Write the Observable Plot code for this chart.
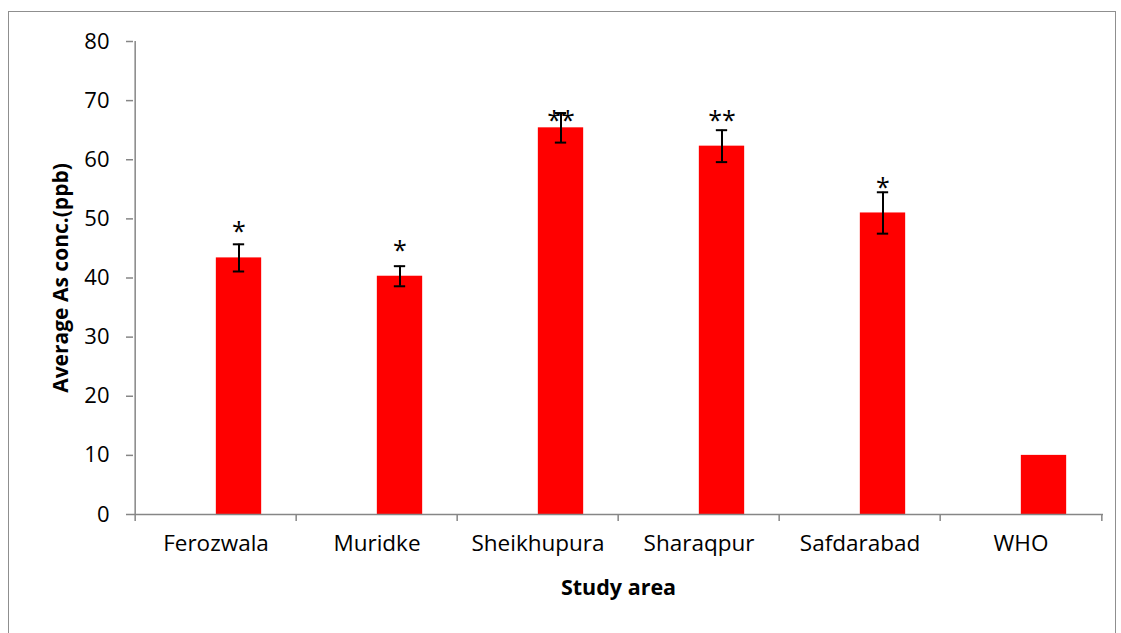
<!DOCTYPE html>
<html>
<head>
<meta charset="utf-8">
<script src="https://cdn.jsdelivr.net/npm/d3@7"></script>
<script src="https://cdn.jsdelivr.net/npm/@observablehq/plot@0.6"></script>
<style>
  html, body { margin: 0; padding: 0; background: #fff; }
  #wrap { position: relative; width: 1121px; height: 633px; overflow: hidden; }
  #border { position: absolute; left: 8px; top: 11px; width: 1108px; height: 640px; border: 1.5px solid #8f8f8f; box-sizing: border-box; pointer-events: none; }
  svg { display: block; }
</style>
</head>
<body>
<div id="wrap"><div id="border"></div><div id="chart"></div></div>
<script>
const areas = ["Ferozwala", "Muridke", "Sheikhupura", "Sharaqpur", "Safdarabad", "WHO"];
const means = [43.4, 40.3, 65.4, 62.3, 51.0, 10];
const errors = [2.3, 1.7, 2.5, 2.7, 3.5, null];
const stars = ["*", "*", "**", "**", "*", ""];
const starY = [48.9, 45.8, 67.8, 67.8, 56.4, null];
const yTicks = [0, 10, 20, 30, 40, 50, 60, 70, 80];

const data = areas.map((a, i) => ({area: a, mean: means[i], err: errors[i], star: stars[i], sy: starY[i]}));
const withErr = data.filter(d => d.err != null);
const withStar = data.filter(d => d.star);

const W = 1121, H = 633;
const mL = 133, mR = 18, mT = 41, mB = 119;
const band = (W - mL - mR) / areas.length;
const half = band / 2;
const barW = 46;
const capW = 12;
const font = "'Open Sans', sans-serif";

const chart = Plot.plot({
  width: W, height: H,
  marginLeft: mL, marginRight: mR, marginTop: mT, marginBottom: mB,
  style: {fontFamily: font, fontSize: "20px", color: "#000", background: "transparent"},
  x: {domain: areas, padding: 0, axis: null},
  y: {domain: [0, 80], axis: null},
  marks: [
    Plot.barY(data, {x: "area", y: "mean", fill: "#ff0000", insetLeft: half, insetRight: half - barW}),
    Plot.ruleX(withErr, {x: "area", y1: d => d.mean - d.err, y2: d => d.mean + d.err, dx: barW / 2, stroke: "#000", strokeWidth: 2}),
    Plot.tickY(withErr, {x: "area", y: d => d.mean + d.err, insetLeft: half + barW / 2 - capW / 2, insetRight: half - barW / 2 - capW / 2, stroke: "#000", strokeWidth: 2}),
    Plot.tickY(withErr, {x: "area", y: d => d.mean - d.err, insetLeft: half + barW / 2 - capW / 2, insetRight: half - barW / 2 - capW / 2, stroke: "#000", strokeWidth: 2}),
    Plot.text(withStar, {x: "area", y: "sy", text: "star", dx: barW / 2, dy: 7, fontSize: 25, fill: "#000"}),
    // axes lines
    Plot.ruleY([0], {stroke: "#868686", strokeWidth: 1.5}),
    Plot.ruleX([areas[0]], {y1: 0, y2: 80, dx: -half, stroke: "#868686", strokeWidth: 1.5}),
    // x-axis boundary ticks
    Plot.ruleX(areas, {x: d => d, y1: 0, y2: -1.2, dx: -half, stroke: "#868686", strokeWidth: 1.5}),
    Plot.ruleX([areas[areas.length - 1]], {y1: 0, y2: -1.2, dx: half, stroke: "#868686", strokeWidth: 1.5}),
    Plot.axisY({ticks: yTicks, tickSize: 7, tickPadding: 17, tickFormat: d => d, stroke: "#868686", strokeWidth: 1.5, fill: "#000", fontSize: 22, label: null}),
    Plot.axisX({tickSize: 0, tickPadding: 21, fill: "#000", fontSize: 22.5, label: null}),
    Plot.text(["Study area"], {frameAnchor: "bottom", dy: 80, fontWeight: "bold", fontSize: 21.5, fill: "#000"}),
    Plot.text(["Average As conc.(ppb)"], {frameAnchor: "left", textAnchor: "middle", dx: -72, rotate: -90, fontWeight: "bold", fontSize: 21, fill: "#000"})
  ]
});
document.getElementById("chart").appendChild(chart);
</script>
</body>
</html>
